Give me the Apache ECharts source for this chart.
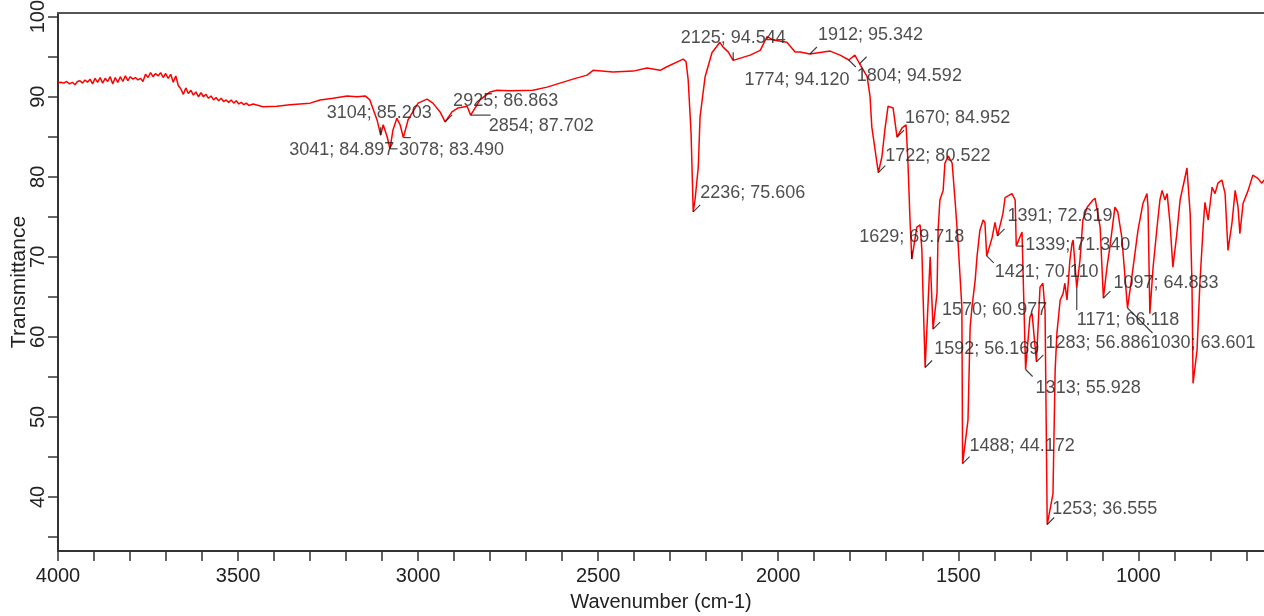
<!DOCTYPE html>
<html lang="en">
<head>
<meta charset="UTF-8">
<title>IR spectrum</title>
<script src="https://cdn.jsdelivr.net/npm/echarts@6/dist/echarts.min.js"></script>
<style>
  html, body { margin: 0; padding: 0; background: #fff; }
</style>
</head>
<body>
<div id="main" style="width:1264px;height:616px;"></div>
<script>
// spectrum: [wavenumber cm-1, transmittance]
var spectrum = [
  [4000,91.75],[3992,91.8],[3984,91.7],[3976,91.9],[3968,91.6],[3960,91.8],[3953,91.5],[3946,91.9],
  [3939,92.0],[3932,91.7],[3925,92.1],[3918,91.8],[3911,92.2],[3904,91.6],[3897,92.3],[3890,91.8],
  [3883,92.4],[3876,91.7],[3869,92.3],[3862,91.9],[3855,92.5],[3848,91.6],[3841,92.4],[3834,91.8],
  [3827,92.5],[3820,91.9],[3813,92.6],[3806,92.0],[3799,92.5],[3792,92.2],[3785,92.4],[3778,92.1],
  [3771,92.3],[3764,91.9],[3757,92.8],[3750,92.4],[3743,93.0],[3736,92.5],[3729,92.9],[3722,92.6],
  [3715,93.0],[3708,92.4],[3701,92.9],[3694,92.3],[3687,92.8],[3680,91.8],[3673,92.6],[3666,91.4],
  [3659,91.0],[3652,90.3],[3645,91.1],[3638,90.4],[3631,90.8],[3624,90.2],[3617,90.6],[3610,90.0],
  [3603,90.5],[3596,90.0],[3589,90.3],[3582,89.8],[3575,90.1],[3568,89.6],[3561,89.9],[3554,89.5],
  [3547,89.8],[3540,89.4],[3533,89.6],[3526,89.3],[3519,89.6],[3512,89.2],[3505,89.5],[3498,89.1],
  [3491,89.3],[3484,89.0],[3477,89.2],[3470,88.9],[3458,89.1],[3431,88.75],[3392,88.8],[3356,89.0],
  [3300,89.2],[3272,89.6],[3236,89.8],[3197,90.1],[3170,90.0],[3147,90.1],[3134,89.6],[3114,87.1],
  [3104,85.203],[3097,86.5],[3086,85.0],[3078,83.49],[3070,85.8],[3059,87.3],[3050,86.5],[3041,84.897],
  [3028,87.1],[3000,89.2],[2975,89.7],[2959,89.2],[2939,88.1],[2925,86.863],[2906,88.1],[2889,88.6],
  [2864,88.8],[2854,87.702],[2839,88.8],[2828,89.6],[2800,90.6],[2781,90.8],[2745,90.75],[2681,90.8],
  [2642,91.2],[2606,91.7],[2570,92.2],[2531,92.7],[2514,93.3],[2459,93.1],[2403,93.2],[2364,93.6],
  [2328,93.3],[2309,93.75],[2264,94.7],[2256,94.4],[2250,92.1],[2242,85.5],[2236,75.606],[2231,77.1],
  [2222,81.2],[2217,87.5],[2203,92.5],[2184,95.5],[2162,96.8],[2153,96.2],[2139,95.6],[2125,94.544],
  [2114,94.7],[2078,95.2],[2050,95.8],[2031,97.5],[2014,97.1],[1976,96.8],[1953,95.6],[1939,95.6],
  [1912,95.342],[1856,95.7],[1828,95.2],[1804,94.592],[1787,95.2],[1774,94.12],[1753,92.5],[1745,90.0],
  [1740,86.2],[1722,80.522],[1712,82.5],[1704,85.8],[1695,88.8],[1681,88.6],[1670,84.952],[1656,86.1],
  [1645,86.5],[1640,82.1],[1634,74.6],[1629,69.718],[1615,73.7],[1606,74.0],[1601,70.8],[1598,65.5],
  [1592,56.169],[1578,70.0],[1570,60.977],[1559,65.5],[1556,73.3],[1551,77.1],[1542,78.3],[1537,81.7],
  [1528,82.6],[1517,81.7],[1509,77.1],[1501,72.1],[1490,63.7],[1488,44.172],[1473,49.6],[1467,61.2],
  [1462,63.7],[1453,67.1],[1448,70.0],[1440,73.3],[1431,74.6],[1426,74.3],[1421,70.11],[1406,72.4],
  [1398,74.3],[1391,72.619],[1376,75.4],[1370,77.4],[1351,77.9],[1342,77.1],[1339,71.34],[1323,73.1],
  [1320,73.3],[1313,55.928],[1301,62.5],[1295,62.9],[1283,56.886],[1273,66.2],[1265,66.7],[1259,63.3],
  [1253,36.555],[1237,40.4],[1231,55.8],[1226,60.5],[1217,64.6],[1209,65.4],[1204,66.7],[1198,64.6],
  [1190,69.6],[1184,71.7],[1181,72.1],[1171,66.118],[1162,69.6],[1154,74.6],[1142,76.2],[1126,77.1],
  [1120,77.3],[1106,73.7],[1097,64.833],[1087,68.7],[1079,71.2],[1065,76.2],[1057,75.6],[1046,72.5],
  [1030,63.601],[1018,67.5],[1001,73.3],[987,76.7],[976,77.9],[973,76.2],[968,62.9],[959,68.7],
  [948,73.7],[940,77.1],[934,78.3],[926,77.1],[920,77.9],[912,74.2],[904,68.7],[893,72.9],
  [884,77.1],[870,80.0],[865,81.1],[856,75.4],[851,66.7],[848,54.2],[837,58.3],[829,66.7],
  [820,73.7],[815,76.8],[806,74.6],[795,78.7],[787,77.9],[779,79.2],[768,79.6],[759,77.9],
  [751,70.8],[740,74.2],[731,78.3],[723,76.2],[718,72.9],[709,76.7],[695,78.3],[682,80.2],
  [668,79.8],[657,79.2],[651,79.6]
];

// labelled peaks
var peakWn = [3104,3078,3041,2925,2854,2236,2125,1912,1804,1774,1722,1670,1629,1592,1570,1488,1421,1391,1339,1313,1283,1253,1171,1097,1030];
var peakT  = [85.203,83.490,84.897,86.863,87.702,75.606,94.544,95.342,94.592,94.120,80.522,84.952,69.718,56.169,60.977,44.172,70.110,72.619,71.340,55.928,56.886,36.555,66.118,64.833,63.601];

var xTickLabels = [4000,3500,3000,2500,2000,1500,1000];
var xMinorTicks = [4000,3900,3800,3700,3600,3500,3400,3300,3200,3100,3000,2900,2800,2700,2600,2500,2400,2300,2200,2100,2000,1900,1800,1700,1600,1500,1400,1300,1200,1100,1000,900,800,700];
var yTickLabels = [40,50,60,70,80,90,100];
var yMinorTicks = [35,40,45,50,55,60,65,70,75,80,85,90,95,100];

// label placement (style only): [dx, dy, align, leader]
var labelPlace = {
  3104: [-54,-22,'left','v'],   3078: [9,1,'left','h'],     3041: [-9,12,'right','h'],
  2925: [8,-21,'left','ur'],    2854: [18,11,'left','hl'],  2236: [7,-19,'left','ur'],
  2125: [0,-22,'center','v'],   1912: [8,-19,'left','ur'],  1804: [8,16,'left','dr'],
  1774: [-10,16,'right','ur'],  1722: [7,-17,'left','ur'],  1670: [8,-19,'left','ur'],
  1629: [0,-22,'center','v'],   1592: [9,-19,'left','ur'],  1570: [9,-19,'left','ur'],
  1488: [7,-18,'left','ur'],    1421: [8,16,'left','dr'],   1391: [10,-20,'left','ur'],
  1339: [9,-1,'left','h'],      1313: [10,19,'left','dr'],  1283: [9,-19,'left','ur'],
  1253: [5,-16,'left','ur'],    1171: [0,32,'left','vl'],   1097: [10,-15,'left','ur'],
  1030: [23,35,'left','long']
};

var leaders = {
  ur:   { symbol: 'path://M0,1L1,0', symbolSize: 7,  symbolOffset: [3.5,-3.5] },
  dr:   { symbol: 'path://M0,0L1,1', symbolSize: 7,  symbolOffset: [3.5,3.5] },
  h:    { symbol: 'rect', symbolSize: [7,1.2],  symbolOffset: [4,0] },
  hl:   { symbol: 'rect', symbolSize: [20,1.2], symbolOffset: [10,0] },
  v:    { symbol: 'rect', symbolSize: [1.2,8],  symbolOffset: [0,-4] },
  vl:   { symbol: 'rect', symbolSize: [1.2,22], symbolOffset: [0,11] },
  long: { symbol: 'path://M0,0L1,1', symbolSize: 25, symbolOffset: [12.5,12.5] }
};

var font = "'Liberation Sans', Arial, sans-serif";

var labelData = peakWn.map(function (w, i) {
  var p = labelPlace[w];
  return {
    value: [w, peakT[i]],
    label: { offset: [p[0], p[1]], align: p[2] }
  };
});

var leaderData = peakWn.map(function (w, i) {
  var L = leaders[labelPlace[w][3]];
  var isPath = L.symbol.indexOf('path://') === 0;
  return {
    value: [w, peakT[i]],
    symbol: L.symbol,
    symbolSize: L.symbolSize,
    symbolOffset: L.symbolOffset,
    itemStyle: isPath ? { color: 'none', borderColor: '#111', borderWidth: 1.2 }
                      : { color: '#111', borderWidth: 0 }
  };
});

var chart = echarts.init(document.getElementById('main'), null, { renderer: 'canvas' });

var option = {
  animation: false,
  backgroundColor: '#fff',
  textStyle: { fontFamily: font },
  grid: { left: 58, right: 0, top: 13, bottom: 65, containLabel: false, outerBoundsMode: 'none' },
  xAxis: [{
    type: 'value',
    inverse: true,
    min: 651,
    max: 4000,
    name: 'Wavenumber (cm-1)',
    nameLocation: 'middle',
    nameGap: 41,
    nameMoveOverlap: false,
    nameTextStyle: { fontSize: 20, color: '#222', fontFamily: font },
    axisLine: { show: true, lineStyle: { color: '#333', width: 2 } },
    axisTick: { show: true, inside: false, length: 10, customValues: xMinorTicks,
                lineStyle: { color: '#333', width: 1.5 } },
    axisLabel: { customValues: xTickLabels, fontSize: 20, color: '#222', margin: 15, fontFamily: font,
                 formatter: function (v) { return String(v); } },
    splitLine: { show: false }
  }, {
    type: 'value',
    position: 'top',
    inverse: true,
    min: 651,
    max: 4000,
    axisLine: { show: true, lineStyle: { color: '#555', width: 2 } },
    axisTick: { show: false },
    axisLabel: { show: false },
    splitLine: { show: false }
  }],
  yAxis: {
    type: 'value',
    min: 33.25,
    max: 100.46,
    name: 'Transmittance',
    nameLocation: 'middle',
    nameGap: 28,
    nameMoveOverlap: false,
    nameTextStyle: { fontSize: 21, color: '#222', fontFamily: font },
    axisLine: { show: true, lineStyle: { color: '#333', width: 2 } },
    axisTick: { show: true, inside: false, length: 10, customValues: yMinorTicks,
                lineStyle: { color: '#333', width: 1.5 } },
    axisLabel: { customValues: yTickLabels, rotate: 90, fontSize: 20, color: '#222', margin: 10, fontFamily: font },
    splitLine: { show: false }
  },
  series: [{
    name: 'spectrum',
    type: 'line',
    data: spectrum,
    showSymbol: false,
    symbol: 'none',
    lineStyle: { color: '#ff0000', width: 1.5 },
    z: 2,
    silent: true
  }, {
    name: 'leaders',
    type: 'scatter',
    data: leaderData,
    z: 3,
    silent: true
  }, {
    name: 'peaks',
    type: 'scatter',
    data: labelData,
    symbolSize: 0,
    itemStyle: { color: 'transparent' },
    label: {
      show: true,
      position: 'inside',
      verticalAlign: 'middle',
      fontSize: 18,
      color: '#222',
      fontFamily: font,
      formatter: function (p) {
        return p.value[0] + '; ' + p.value[1].toFixed(3);
      }
    },
    z: 4,
    silent: true
  }]
};

chart.setOption(option);
</script>
</body>
</html>
